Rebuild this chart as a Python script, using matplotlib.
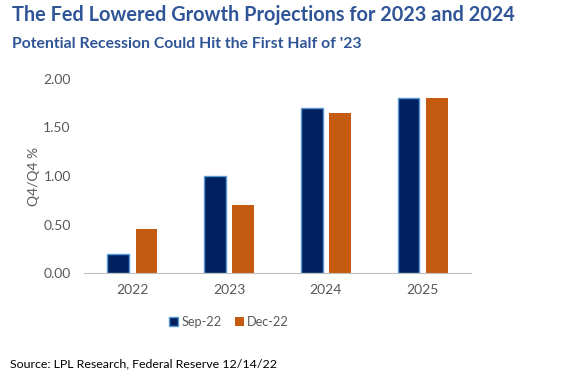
import matplotlib.pyplot as plt
import numpy as np

years = ["2022", "2023", "2024", "2025"]
sep22 = [0.2, 1.0, 1.7, 1.8]
dec22 = [0.45, 0.7, 1.65, 1.8]
yticks = [0.0, 0.5, 1.0, 1.5, 2.0]

plt.rcParams['font.family'] = ['Lato', 'DejaVu Sans']

fig = plt.figure(figsize=(5.72, 3.77), dpi=100)
ax = fig.add_axes([84/572, 1 - 273/377, 387/572, 194/377])

x = np.arange(len(years))
w = 0.225
ax.bar(x - 0.147, sep22, w, color="#002060", edgecolor="#5B9BD5", linewidth=1, label="Sep-22")
ax.bar(x + 0.147, dec22, w, color="#C55A11", label="Dec-22")

ax.set_xlim(-0.5, 3.5)
ax.set_ylim(0, 2.0)
ax.set_yticks(yticks)
ax.set_yticklabels([f"{v:.2f}" for v in yticks])
ax.set_xticks(x)
ax.set_xticklabels(years)
ax.tick_params(length=0, colors="#595959", labelsize=10)
ax.tick_params(axis="y", pad=9.5)
ax.tick_params(axis="x", pad=8)
for s in ["top", "right", "left"]:
    ax.spines[s].set_visible(False)
ax.spines["bottom"].set_color("#BFBFBF")
ax.set_ylabel("Q4/Q4 %", color="#595959", fontsize=10)
ax.yaxis.set_label_coords(-44/387, 0.5)

fig.legend(loc="center", bbox_to_anchor=(229/572, 1 - 322/377), ncol=2, frameon=False,
           fontsize=9.2, labelcolor="#595959", handlelength=0.7, handleheight=0.7,
           handletextpad=0.3, columnspacing=1.0)

fig.text(12/572, 1 - 15/377, "The Fed Lowered Growth Projections for 2023 and 2024",
         fontsize=14.3, fontweight="bold", color="#2F5597", va="center")
fig.text(12/572, 1 - 44/377, "Potential Recession Could Hit the First Half of '23",
         fontsize=11.3, fontweight="bold", color="#2F5597", va="center")
fig.text(10/572, 1 - 364/377, "Source: LPL Research, Federal Reserve 12/14/22",
         fontsize=8.9, color="black", va="center")

fig.savefig("out.png", dpi=100)
